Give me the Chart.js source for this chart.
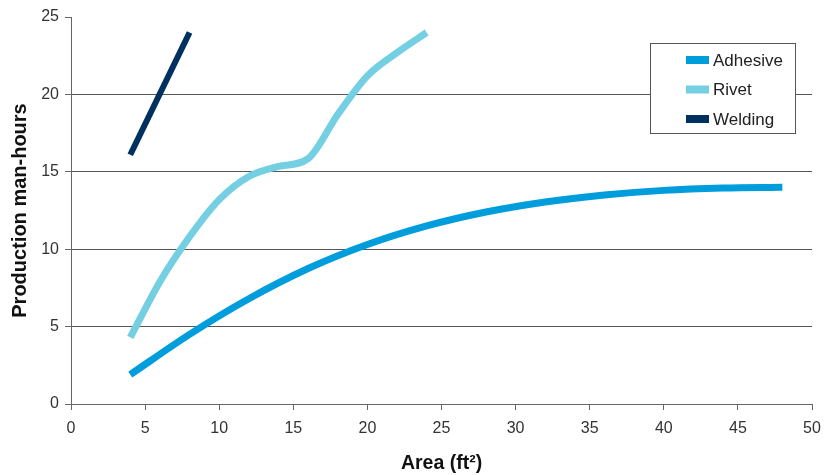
<!DOCTYPE html>
<html>
<head>
<meta charset="utf-8">
<script src="https://cdn.jsdelivr.net/npm/chart.js@4.4.0/dist/chart.umd.min.js"></script>
<style>
  html, body { margin: 0; padding: 0; background: #fff; }
</style>
</head>
<body>
<canvas id="myChart" width="825" height="475"></canvas>
<script>
// data
var adhesive_x = [4, 8, 12, 16, 20, 24, 28, 32, 36, 40, 44, 48];
var adhesive_y = [1.9, 4.5, 6.8, 8.75, 10.3, 11.5, 12.4, 13.05, 13.5, 13.8, 13.95, 14.0];
var rivet_x = [4, 6, 8, 10, 12, 14, 16, 18, 20, 22, 24];
var rivet_y = [4.3, 7.9, 10.8, 13.2, 14.7, 15.35, 15.85, 18.7, 21.2, 22.7, 24.0];
var welding_x = [4, 8];
var welding_y = [16.1, 24.0];
var series_names = ['Adhesive', 'Rivet', 'Welding'];
var series_colors = ['#009ddc', '#74cfe3', '#00305f'];
var x_ticks = [0, 5, 10, 15, 20, 25, 30, 35, 40, 45, 50];
var y_ticks = [0, 5, 10, 15, 20, 25];

function toPoints(xs, ys){
  return xs.map(function(x, i){ return {x: x, y: ys[i]}; });
}

// boxed legend at the top right
var boxLegend = {
  id: 'boxLegend',
  afterDraw: function(chart){
    var ctx = chart.ctx;
    var x0 = 650.5, y0 = 43.5, w = 145, h = 90;
    ctx.save();
    ctx.fillStyle = '#fff';
    ctx.fillRect(x0, y0, w, h);
    ctx.strokeStyle = '#555';
    ctx.lineWidth = 1;
    ctx.strokeRect(x0, y0, w, h);
    ctx.font = '17px "Liberation Sans", Arial, sans-serif';
    ctx.textBaseline = 'middle';
    chart.data.datasets.forEach(function(ds, i){
      var cy = 60 + i * 29.5;
      ctx.fillStyle = ds.borderColor;
      ctx.fillRect(686, cy - 4, 23, 8);
      ctx.fillStyle = '#222';
      ctx.fillText(ds.label, 713, cy + 1);
    });
    ctx.restore();
  }
};

var ctx = document.getElementById('myChart').getContext('2d');
var tickFont = {family: '"Liberation Sans", Arial, sans-serif', size: 16};
var titleFont = {family: '"Liberation Sans", Arial, sans-serif', size: 19.5, weight: 'bold'};
var yTitleFont = {family: '"Liberation Sans", Arial, sans-serif', size: 20, weight: 'bold'};

var myChart = new Chart(ctx, {
  type: 'line',
  data: {
    datasets: [
      {label: series_names[0], data: toPoints(adhesive_x, adhesive_y), borderColor: series_colors[0], borderWidth: 7, cubicInterpolationMode: 'monotone'},
      {label: series_names[1], data: toPoints(rivet_x, rivet_y), borderColor: series_colors[1], borderWidth: 7, cubicInterpolationMode: 'monotone'},
      {label: series_names[2], data: toPoints(welding_x, welding_y), borderColor: series_colors[2], borderWidth: 6}
    ]
  },
  options: {
    responsive: false,
    animation: false,
    layout: {padding: {top: 17, right: 13, left: 0, bottom: 0}},
    elements: {point: {radius: 0}, line: {fill: false, borderCapStyle: 'butt'}},
    plugins: {legend: {display: false}, tooltip: {enabled: false}},
    scales: {
      x: {
        type: 'linear',
        min: 0, max: 50,
        afterBuildTicks: function(scale){ scale.ticks = x_ticks.map(function(v){ return {value: v}; }); },
        afterFit: function(scale){ scale.height = 71; scale.paddingLeft = 0; scale.paddingRight = 0; },
        grid: {drawOnChartArea: false, drawTicks: true, tickLength: 6, tickColor: '#666'},
        border: {color: '#666'},
        ticks: {font: tickFont, color: '#333', padding: 9, maxRotation: 0},
        title: {display: true, text: 'Area (ft\u00b2)', font: titleFont, color: '#111', padding: {top: 0, bottom: 0}}
      },
      y: {
        min: 0, max: 25,
        afterBuildTicks: function(scale){ scale.ticks = y_ticks.map(function(v){ return {value: v}; }); },
        afterFit: function(scale){ scale.width = 71; scale.paddingTop = 0; scale.paddingBottom = 0; },
        grid: {
          color: function(c){ return (c.tick && (c.tick.value === 25 || c.tick.value === 0)) ? 'rgba(0,0,0,0)' : '#555'; },
          tickColor: '#666', tickLength: 6
        },
        border: {color: '#666'},
        ticks: {font: tickFont, color: '#333', padding: 6},
        title: {display: true, text: 'Production man-hours', font: yTitleFont, color: '#111', padding: {top: 8, bottom: 0}}
      }
    }
  },
  plugins: [boxLegend]
});
</script>
</body>
</html>
